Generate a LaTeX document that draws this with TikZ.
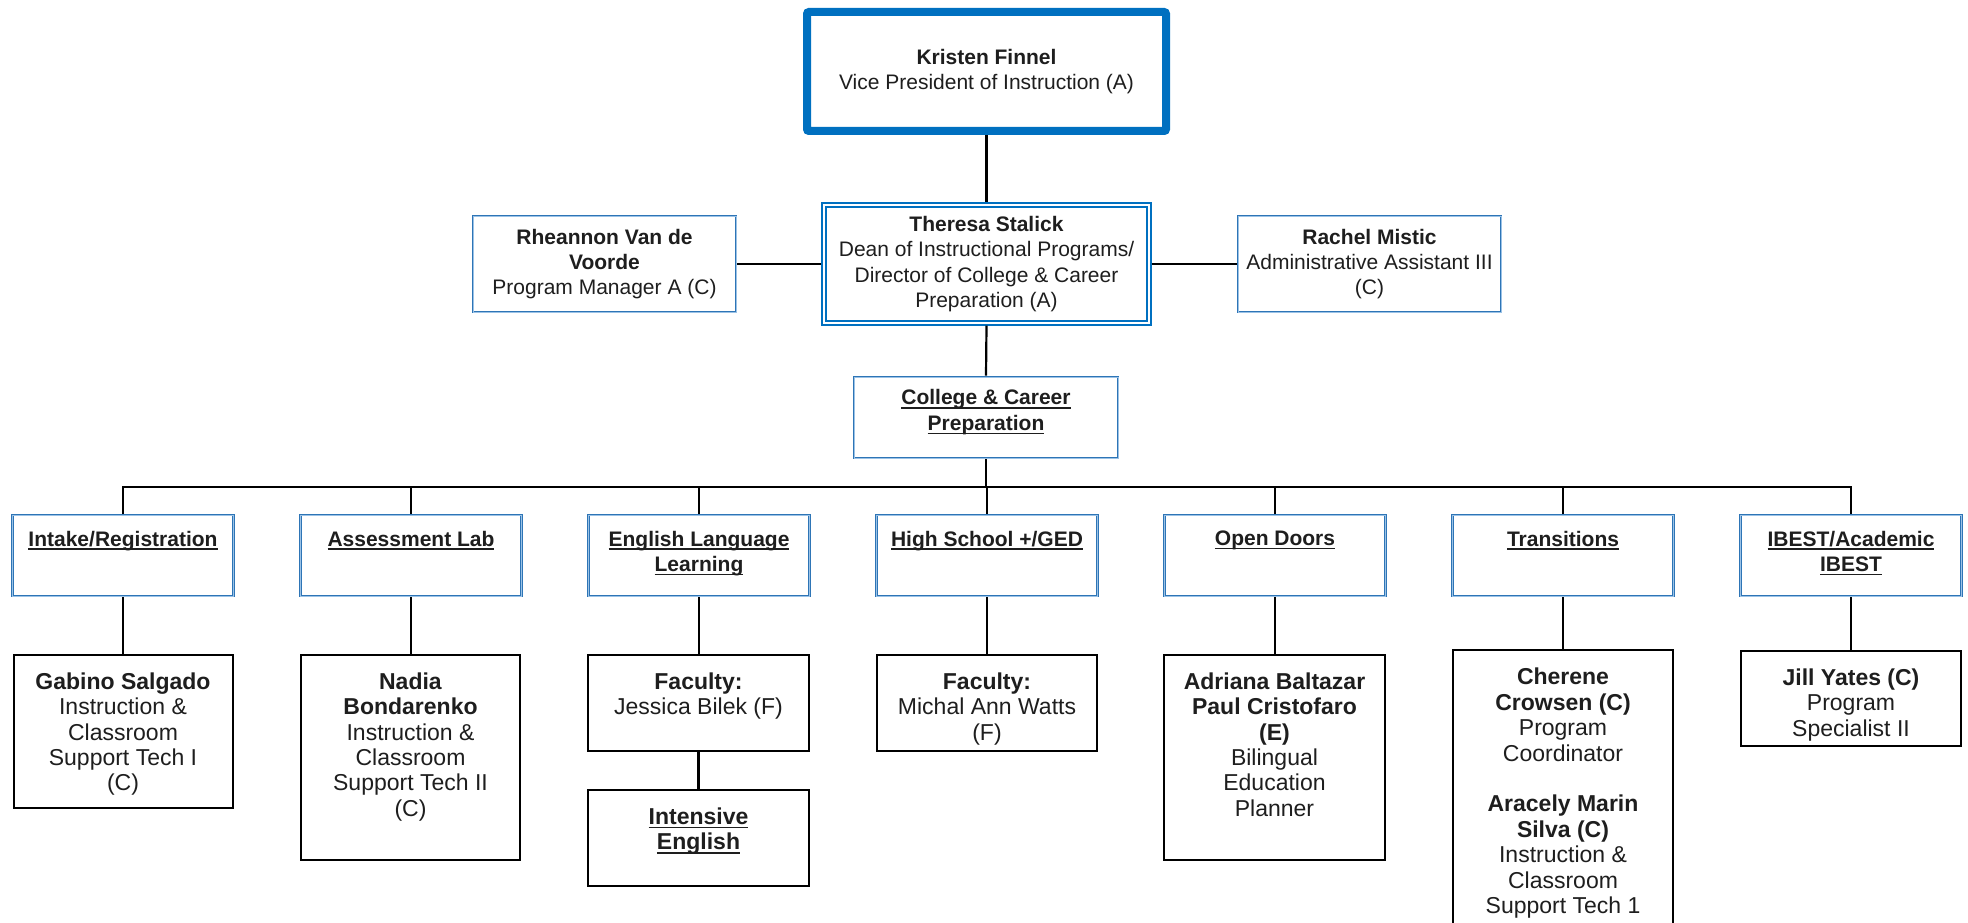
\documentclass[tikz,border=0pt]{standalone}
\usepackage{fontspec}
\setmainfont{Liberation Sans}
\definecolor{vpblue}{RGB}{0,112,192}
\definecolor{unitblue}{RGB}{46,117,182}
\definecolor{unitlight}{RGB}{155,194,230}
\definecolor{txt}{RGB}{30,30,30}
\newcommand{\myul}[1]{\setbox0\hbox{#1}\rlap{\rule[-4pt]{\wd0}{1.6pt}}\box0}
\tikzset{
  box/.style={rectangle, inner sep=0pt, fill=white, align=center, text=txt,
              font=\fontsize{21}{25.4}\selectfont},
  vpbox/.style={box, draw=vpblue, line width=8pt, rounded corners=2pt, outer sep=4pt},
  deanbox/.style={box, draw=vpblue, line width=1.4pt, double=white, double distance=2.6pt, outer sep=2.7pt},
  unitbox/.style={box, draw=unitblue, double=unitlight, line width=0.9pt, double distance=1pt, outer sep=1.4pt},
  staffbox/.style={box, draw=black, line width=2pt, outer sep=1pt},
  lbl/.style={inner sep=0pt, align=center, text=txt, font=\fontsize{21}{25.4}\selectfont},
  stafflbl/.style={lbl, font=\fontsize{23}{25.4}\selectfont},
  conn/.style={draw=black, line width=2.2pt},
}
\begin{document}
\begin{tikzpicture}[x=1pt,y=-1pt]
\useasboundingbox (0,0) rectangle (1968,923);

% level 1 and 2
\node[vpbox, minimum width=359pt, minimum height=119pt] (vp) at (986.5,71.5)
  {\textbf{Kristen Finnel}\\Vice President of Instruction (A)};
\node[deanbox, minimum width=325pt, minimum height=118pt] (dean) at (986.5,264)
  {\textbf{Theresa Stalick}\\Dean of Instructional Programs/\\Director of College \& Career\\Preparation (A)};
\node[unitbox, minimum width=263pt, minimum height=96pt] (rhe) at (604.5,264)
  {\textbf{Rheannon Van de}\\\textbf{Voorde}\\Program Manager A (C)};
\node[unitbox, minimum width=263pt, minimum height=96pt] (rachel) at (1369.5,264)
  {\textbf{Rachel Mistic}\\Administrative Assistant III\\(C)};
\node[unitbox, minimum width=264pt, minimum height=81pt] (college) at (986,417.5) {};
\node[lbl] (collegeT) at (986,412) {\textbf{\myul{College \& Career}}\\\textbf{\myul{Preparation}}};

% level 3
\node[unitbox, minimum width=221pt, minimum height=81pt] (intake) at (123,555.5) {};
\node[unitbox, minimum width=221pt, minimum height=81pt] (assess) at (411,555.5) {};
\node[unitbox, minimum width=221pt, minimum height=81pt] (ell) at (699,555.5) {};
\node[unitbox, minimum width=221pt, minimum height=81pt] (hs) at (987,555.5) {};
\node[unitbox, minimum width=221pt, minimum height=81pt] (open) at (1275,555.5) {};
\node[unitbox, minimum width=221pt, minimum height=81pt] (trans) at (1563,555.5) {};
\node[unitbox, minimum width=221pt, minimum height=81pt] (ibest) at (1851,555.5) {};
\node[lbl, anchor=north] (intakeT) at ([yshift=-17pt]intake.north) {\textbf{\myul{Intake/Registration}}};
\node[lbl, anchor=north] (assessT) at ([yshift=-17pt]assess.north) {\textbf{\myul{Assessment Lab}}};
\node[lbl, anchor=north] (ellT) at ([yshift=-17pt]ell.north) {\textbf{\myul{English Language}}\\\textbf{\myul{Learning}}};
\node[lbl, anchor=north] (hsT) at ([yshift=-17pt]hs.north) {\textbf{\myul{High School +/GED}}};
\node[lbl, anchor=north] (openT) at ([yshift=-17pt]open.north) {\textbf{\myul{Open Doors}}};
\node[lbl, anchor=north] (transT) at ([yshift=-17pt]trans.north) {\textbf{\myul{Transitions}}};
\node[lbl, anchor=north] (ibestT) at ([yshift=-17pt]ibest.north) {\textbf{\myul{IBEST/Academic}}\\\textbf{\myul{IBEST}}};

% level 4
\node[staffbox, minimum width=219pt, minimum height=153pt] (gabino) at (123,731) {};
\node[staffbox, minimum width=219pt, minimum height=205pt] (nadia) at (410.5,757) {};
\node[staffbox, minimum width=221pt, minimum height=96pt] (jess) at (698.5,702.5) {};
\node[staffbox, minimum width=221pt, minimum height=96pt] (inten) at (698.5,837.5) {};
\node[staffbox, minimum width=220pt, minimum height=96pt] (michal) at (987,702.5) {};
\node[staffbox, minimum width=221pt, minimum height=205pt] (adri) at (1274.5,757) {};
\node[staffbox, minimum width=220pt, minimum height=350pt] (cher) at (1563,825) {};
\node[staffbox, minimum width=220pt, minimum height=95pt] (jill) at (1851,698) {};

\node[stafflbl, anchor=north] (gabinoT) at ([yshift=-19pt]gabino.north)
  {\textbf{Gabino Salgado}\\Instruction \&\\Classroom\\Support Tech I\\(C)};
\node[stafflbl, anchor=north] (nadiaT) at ([yshift=-19pt]nadia.north)
  {\textbf{Nadia}\\\textbf{Bondarenko}\\Instruction \&\\Classroom\\Support Tech II\\(C)};
\node[stafflbl, anchor=north] (jessT) at ([yshift=-19pt]jess.north)
  {\textbf{Faculty:}\\Jessica Bilek (F)};
\node[stafflbl, anchor=north] (intenT) at ([yshift=-19pt]inten.north)
  {\textbf{\myul{Intensive}}\\\textbf{\myul{English}}};
\node[stafflbl, anchor=north] (michalT) at ([yshift=-19pt]michal.north)
  {\textbf{Faculty:}\\Michal Ann Watts\\(F)};
\node[stafflbl, anchor=north] (adriT) at ([yshift=-19pt]adri.north)
  {\textbf{Adriana Baltazar}\\\textbf{Paul Cristofaro}\\\textbf{(E)}\\Bilingual\\Education\\Planner};
\node[stafflbl, anchor=north] (cherT) at ([yshift=-19pt]cher.north)
  {\textbf{Cherene}\\\textbf{Crowsen (C)}\\Program\\Coordinator\\\mbox{}\\\textbf{Aracely Marin}\\\textbf{Silva (C)}\\Instruction \&\\Classroom\\Support Tech 1};
\node[stafflbl, anchor=north] (jillT) at ([yshift=-19pt]jill.north)
  {\textbf{Jill Yates (C)}\\Program\\Specialist II};

% connectors
\coordinate (bus) at (986,487);
\draw[conn] (vp.south) -- (dean.north);
\draw[conn] (rhe.east) -- (dean.west);
\draw[conn] (dean.east) -- (rachel.west);
\draw[conn] (dean.south) -- (college.north);
\draw[conn] (college.south) -- (college.south |- bus);
\draw[conn] (intake.north) |- (bus) -| (ibest.north);
\foreach \n in {assess,ell,hs,open,trans}
  \draw[conn] (\n.north) -- (\n.north |- bus);
\draw[conn] (intake.south) -- (intake.south |- gabino.north);
\draw[conn] (assess.south) -- (assess.south |- nadia.north);
\draw[conn] (ell.south) -- (ell.south |- jess.north);
\draw[conn] (jess.south) -- (jess.south |- inten.north);
\draw[conn] (hs.south) -- (hs.south |- michal.north);
\draw[conn] (open.south) -- (open.south |- adri.north);
\draw[conn] (trans.south) -- (trans.south |- cher.north);
\draw[conn] (ibest.south) -- (ibest.south |- jill.north);
\end{tikzpicture}
\end{document}
